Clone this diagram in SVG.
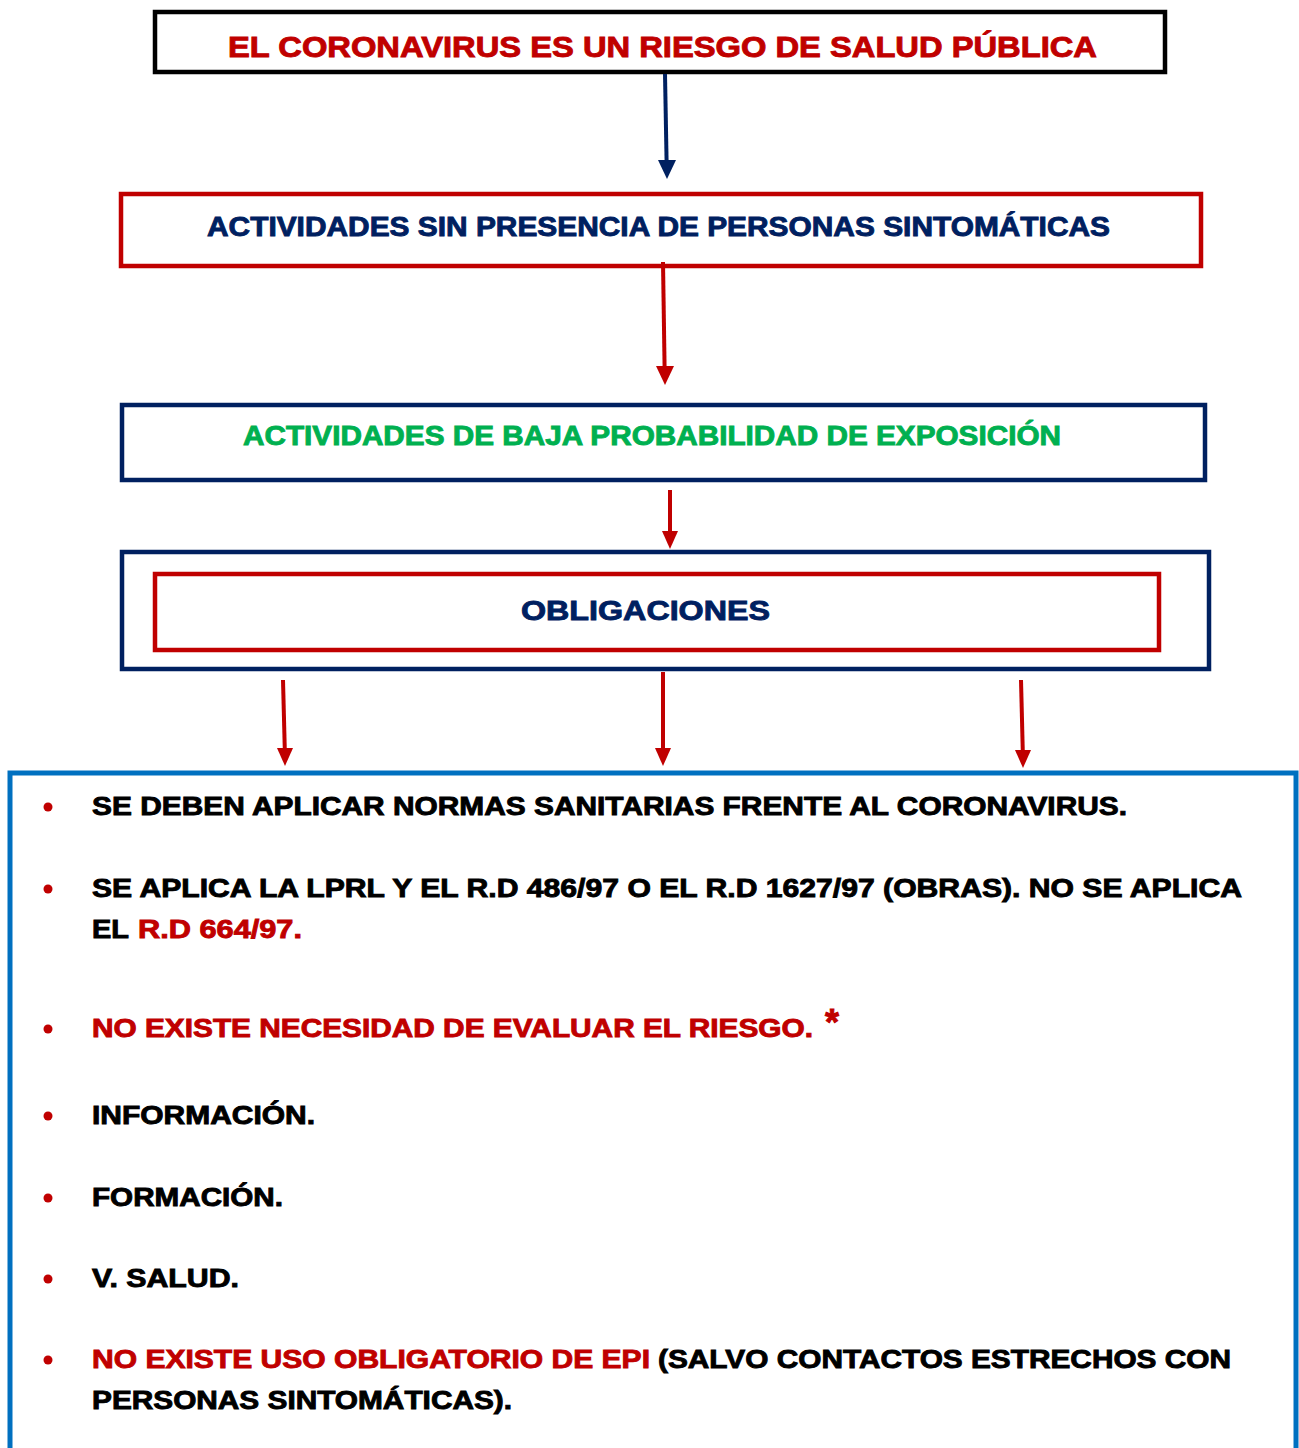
<svg xmlns="http://www.w3.org/2000/svg" width="1299" height="1448" viewBox="0 0 1299 1448">
<style>
text{font-family:"Liberation Sans",Arial,sans-serif;font-weight:bold;stroke-width:0.9px}
.red{fill:#C00000;stroke:#C00000}
.navy{fill:#002060;stroke:#002060}
.green{fill:#00B050;stroke:#00B050}
.blk{fill:#000;stroke:#000}
.box{fill:#fff;stroke-width:4.5}
.li{font-size:26px}
.dot{fill:#C00000}
</style>
<g id="n1">
<rect class="box" x="155" y="12" width="1010" height="60" stroke="#000"/>
<text class="red" x="228" y="57" font-size="29" textLength="869" lengthAdjust="spacingAndGlyphs">EL CORONAVIRUS ES UN RIESGO DE SALUD PÚBLICA</text>
</g>
<g id="n2">
<rect class="box" x="121" y="194" width="1080" height="72" stroke="#C00000"/>
<text class="navy" x="207" y="236" font-size="27" textLength="903" lengthAdjust="spacingAndGlyphs">ACTIVIDADES SIN PRESENCIA DE PERSONAS SINTOMÁTICAS</text>
</g>
<g id="n3">
<rect class="box" x="122" y="405" width="1083" height="75" stroke="#002060"/>
<text class="green" x="243" y="445" font-size="27" textLength="818" lengthAdjust="spacingAndGlyphs">ACTIVIDADES DE BAJA PROBABILIDAD DE EXPOSICIÓN</text>
</g>
<g id="n4">
<rect class="box" x="122" y="552" width="1087" height="117" stroke="#002060"/>
<rect class="box" x="155" y="574" width="1004" height="76" stroke="#C00000"/>
<text class="navy" x="521" y="620" font-size="28" textLength="249" lengthAdjust="spacingAndGlyphs">OBLIGACIONES</text>
</g>
<g id="connectors">
<line x1="665" y1="74" x2="666.6" y2="162" stroke="#002060" stroke-width="4"/>
<polygon points="658,160 676,160 667,179" fill="#002060"/>
<line x1="663" y1="262" x2="664.6" y2="368" stroke="#C00000" stroke-width="4"/>
<polygon points="656,366 674,366 665,385" fill="#C00000"/>
<line x1="670" y1="490" x2="670" y2="533" stroke="#C00000" stroke-width="4"/>
<polygon points="662,531 678,531 670,549" fill="#C00000"/>
<line x1="283" y1="680" x2="284.8" y2="750" stroke="#C00000" stroke-width="4"/>
<polygon points="277,748 293,748 285,766" fill="#C00000"/>
<line x1="663" y1="672" x2="663" y2="750" stroke="#C00000" stroke-width="4"/>
<polygon points="655,748 671,748 663,766" fill="#C00000"/>
<line x1="1021" y1="680" x2="1022.8" y2="752" stroke="#C00000" stroke-width="4"/>
<polygon points="1015,750 1031,750 1023,768" fill="#C00000"/>
</g>
<g id="n5">
<rect x="10" y="773" width="1286" height="690" fill="#fff" stroke="#0070C0" stroke-width="5"/>
<circle class="dot" cx="48" cy="807" r="4.5"/>
<text class="blk li" x="92" y="815" textLength="1035" lengthAdjust="spacingAndGlyphs">SE DEBEN APLICAR NORMAS SANITARIAS FRENTE AL CORONAVIRUS.</text>
<circle class="dot" cx="48" cy="889" r="4.5"/>
<text class="blk li" x="92" y="897" textLength="1150" lengthAdjust="spacingAndGlyphs">SE APLICA LA LPRL Y EL R.D 486/97 O EL R.D 1627/97 (OBRAS). NO SE APLICA</text>
<text class="blk li" x="92" y="938" textLength="37" lengthAdjust="spacingAndGlyphs">EL</text>
<text class="red li" x="138" y="938" textLength="164" lengthAdjust="spacingAndGlyphs">R.D 664/97.</text>
<circle class="dot" cx="48" cy="1029" r="4.5"/>
<text class="red li" x="92" y="1037" textLength="721" lengthAdjust="spacingAndGlyphs">NO EXISTE NECESIDAD DE EVALUAR EL RIESGO.</text>
<text class="red" x="825" y="1035" font-size="36">*</text>
<circle class="dot" cx="48" cy="1116" r="4.5"/>
<text class="blk li" x="92" y="1124" textLength="223" lengthAdjust="spacingAndGlyphs">INFORMACIÓN.</text>
<circle class="dot" cx="48" cy="1198" r="4.5"/>
<text class="blk li" x="92" y="1206" textLength="191" lengthAdjust="spacingAndGlyphs">FORMACIÓN.</text>
<circle class="dot" cx="48" cy="1279" r="4.5"/>
<text class="blk li" x="92" y="1287" textLength="147" lengthAdjust="spacingAndGlyphs">V. SALUD.</text>
<circle class="dot" cx="48" cy="1360" r="4.5"/>
<text class="red li" x="92" y="1368" textLength="558" lengthAdjust="spacingAndGlyphs">NO EXISTE USO OBLIGATORIO DE EPI</text>
<text class="blk li" x="658" y="1368" textLength="573" lengthAdjust="spacingAndGlyphs">(SALVO CONTACTOS ESTRECHOS CON</text>
<text class="blk li" x="92" y="1409" textLength="420" lengthAdjust="spacingAndGlyphs">PERSONAS SINTOMÁTICAS).</text>
</g>
</svg>
